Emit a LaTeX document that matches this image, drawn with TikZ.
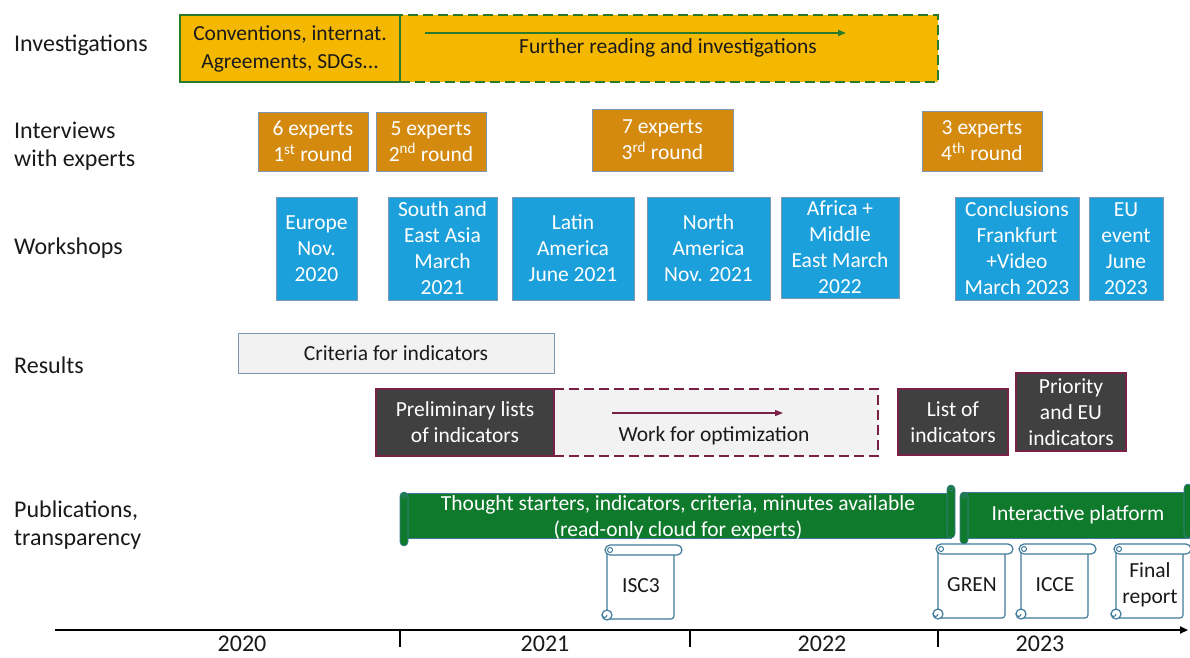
\documentclass[tikz,border=0pt]{standalone}
\usepackage{fontspec}
\setmainfont{Carlito}
\usepackage{xcolor}
\usetikzlibrary{arrows.meta,positioning}

\definecolor{invgold}{HTML}{F5B800}
\definecolor{invgreen}{HTML}{2A7A2A}
\definecolor{expor}{HTML}{D38A0E}
\definecolor{wsblue}{HTML}{1CA0DC}
\definecolor{edgeblue}{HTML}{7F96B2}
\definecolor{lightgr}{HTML}{F2F2F2}
\definecolor{darkgr}{HTML}{404040}
\definecolor{maroon}{HTML}{7A1F45}
\definecolor{pubgreen}{HTML}{107A2C}
\definecolor{scrollblue}{HTML}{3E7A9A}
\definecolor{txt}{HTML}{1A1A1A}

\begin{document}
\begin{tikzpicture}[x=1pt,y=-1pt,font=\fontsize{21.5}{26}\selectfont,text=txt,
  box/.style={draw, rectangle, inner sep=0pt, align=center},
  expbox/.style={box, fill=expor, draw=edgeblue, line width=0.8pt, text=white},
  wsbox/.style={box, fill=wsblue, draw=edgeblue, line width=0.8pt, text=white, minimum height=103},
  resbox/.style={box, fill=darkgr, draw=maroon, line width=2pt, text=white},
  banner/.style={fill=pubgreen, draw=scrollblue, line width=0.6pt},
  scrl/.style={fill=white, draw=scrollblue, line width=1.2pt},
  bigtxt/.style={font=\fontsize{24}{28}\selectfont},
  rowlabel/.style={bigtxt, anchor=west, align=left, inner sep=0pt}]
\useasboundingbox (0,0) rectangle (1190,657);
\clip (0,0) rectangle (1190,657);

% row labels
\node[rowlabel] (lInv) at (14,45) {Investigations};
\node[rowlabel] (lExp) at (14,146) {Interviews\\with experts};
\node[rowlabel] (lWs) at (14,248) {Workshops};
\node[rowlabel] (lRes) at (14,365) {Results};
\node[rowlabel] (lPub) at (14,525) {Publications,\\transparency};

% investigations
\node[box, fill=invgold, draw=invgreen, line width=2pt, dash pattern=on 10pt off 5pt,
  minimum width=538, minimum height=67] (further) at (669,48.5) {};
\node[box, fill=invgold, draw=invgreen, line width=2pt, font=\fontsize{21.5}{28}\selectfont,
  minimum width=220, minimum height=67] (conv) at (290,48.5) {Conventions, internat.\\Agreements, SDGs...};
\node (furtherTxt) at (668,48) {Further reading and investigations};
\coordinate (furtherA) at (425,33);
\coordinate (furtherB) at (846,33);
\draw[invgreen, line width=1.6pt, -{Triangle[length=8pt,width=6pt]}] (furtherA) -- (furtherB);

% interviews
\node[expbox, minimum width=110, minimum height=59] (exp1) at (313,141.5) {6 experts\\1\textsuperscript{st} round};
\node[expbox, minimum width=110, minimum height=59] (exp2) at (431,141.5) {5 experts\\2\textsuperscript{nd} round};
\node[expbox, minimum width=141, minimum height=62] (exp3) at (662.5,140) {7 experts\\3\textsuperscript{rd} round};
\node[expbox, minimum width=120, minimum height=60] (exp4) at (982,141) {3 experts\\4\textsuperscript{th} round};

% workshops
\node[wsbox, minimum width=81] (ws1) at (316.5,248.5) {Europe\\Nov.\\2020};
\node[wsbox, minimum width=109] (ws2) at (442.5,248.5) {South and\\East Asia\\March\\2021};
\node[wsbox, minimum width=122] (ws3) at (573,248.5) {Latin\\America\\June 2021};
\node[wsbox, minimum width=123] (ws4) at (708.5,248.5) {North\\America\\Nov. 2021};
\node[wsbox, minimum width=118, minimum height=101] (ws5) at (840,247.5) {Africa +\\Middle\\East March\\2022};
\node[wsbox, minimum width=124] (ws6) at (1017,248.5) {Conclusions\\Frankfurt\\+Video\\March 2023};
\node[wsbox, minimum width=74] (ws7) at (1126,248.5) {EU\\event\\June\\2023};

% results
\node[box, fill=lightgr, draw=edgeblue, line width=1pt, minimum width=316, minimum height=40] (crit) at (396,353) {Criteria for indicators};
\node[box, fill=lightgr, draw=maroon, line width=2pt, dash pattern=on 10pt off 5pt,
  minimum width=324, minimum height=67] (optim) at (716,422.5) {};
\node[resbox, minimum width=178, minimum height=67] (prelim) at (465,422.5) {Preliminary lists\\of indicators};
\node (optimTxt) at (714,436) {Work for optimization};
\coordinate (optimA) at (612,413);
\coordinate (optimB) at (783,413);
\draw[maroon, line width=1.4pt, -{Triangle[length=8pt,width=6pt]}] (optimA) -- (optimB);
\node[resbox, minimum width=110, minimum height=66] (listInd) at (953,422) {List of\\indicators};
\node[resbox, minimum width=110, minimum height=78] (prio) at (1071,412) {Priority\\and EU\\indicators};

% publications banners
\filldraw[banner] (404,493) rectangle (951,538);
\filldraw[banner, rounded corners=4] (400,492) rectangle (408,546);
\filldraw[banner, rounded corners=4] (947,485) rectangle (955,538);
\draw[scrollblue, line width=0.6pt] (404,496) circle (2);
\draw[scrollblue, line width=0.6pt] (951,489) circle (2);
\node[text=white, align=center] (pubA) at (678,517.5) {Thought starters, indicators, criteria, minutes available\\(read-only cloud for experts)};
\filldraw[banner] (964,492) rectangle (1192,538);
\filldraw[banner, rounded corners=4] (960,492) rectangle (968,544);
\filldraw[banner, rounded corners=4] (1184,484) rectangle (1192,538);
\draw[scrollblue, line width=0.6pt] (964,496) circle (2);
\node[text=white] (pubB) at (1078,515) {Interactive platform};

% documents
\foreach \nm/\l/\t/\txt in {isc/601/545/ISC3, gren/932/544/GREN, icce/1015/544/ICCE, final/1110/544/{Final\\report}}{
  \filldraw[scrl, rounded corners=3] (\l+6,\t+5) rectangle (\l+73,\t+74);
  \filldraw[scrl, rounded corners=5] (\l+4,\t) rectangle (\l+81,\t+10);
  \draw[scrollblue, line width=1pt] (\l+9,\t+5) circle (2.5);
  \filldraw[scrl] (\l+6,\t+70) circle (5);
  \draw[scrollblue, line width=1pt] (\l+6,\t+70) arc (0:200:2.5);
  \node[align=center] (\nm) at (\l+40,\t+41) {\txt};
}

% time axis
\coordinate (axisA) at (55,630);
\coordinate (axisB) at (1188,630);
\draw[line width=1.8pt, -{Triangle[length=8pt,width=7pt]}] (axisA) -- (axisB);
\foreach \x in {400,690,938}{
  \draw[line width=1.8pt] (\x,630) -- (\x,647);
}
\node[bigtxt] (y20) at (242,644) {2020};
\node[bigtxt] (y21) at (545,644) {2021};
\node[bigtxt] (y22) at (822,644) {2022};
\node[bigtxt] (y23) at (1040,644) {2023};
\end{tikzpicture}
\end{document}
